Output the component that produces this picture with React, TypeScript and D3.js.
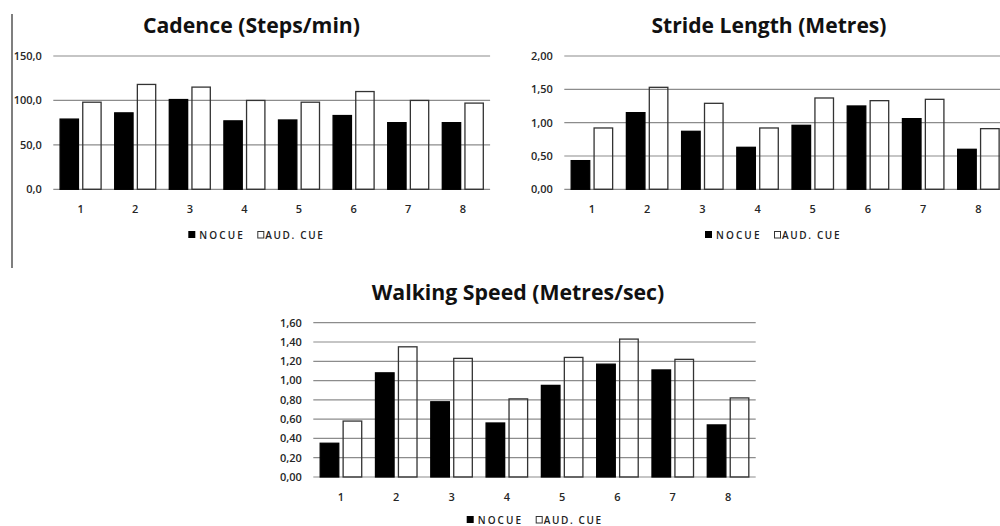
import React from "react";
import * as d3 from "d3";

const categories = ["1", "2", "3", "4", "5", "6", "7", "8"];
const seriesNames = ["NO CUE", "AUD. CUE"];

const cadenceNoCue = [79, 86, 101, 77, 78, 83, 75, 75];
const cadenceAudCue = [98, 118, 115, 100, 98, 110, 100, 97];
const cadenceTicks = [0, 50, 100, 150];

const strideNoCue = [0.43, 1.15, 0.87, 0.63, 0.96, 1.25, 1.06, 0.6];
const strideAudCue = [0.92, 1.53, 1.29, 0.92, 1.37, 1.33, 1.35, 0.91];
const strideTicks = [0, 0.5, 1, 1.5, 2];

const speedNoCue = [0.35, 1.08, 0.78, 0.56, 0.95, 1.17, 1.11, 0.54];
const speedAudCue = [0.58, 1.35, 1.23, 0.81, 1.24, 1.43, 1.22, 0.82];
const speedTicks = [0, 0.2, 0.4, 0.6, 0.8, 1.0, 1.2, 1.4, 1.6];

const locale = d3.formatLocale({
  decimal: ",",
  thousands: ".",
  grouping: [3],
  currency: ["", "€"],
});

const FONT = "'Open Sans', 'DejaVu Sans', sans-serif";

type PanelProps = {
  title: string;
  titleX: number;
  titleY: number;
  titleWidth: number;
  noCue: number[];
  audCue: number[];
  ticks: number[];
  fmt: string;
  x0: number;
  x1: number;
  yZero: number;
  yTop: number;
  legendX: number;
  legendY: number;
};

function Panel(p: PanelProps) {
  const maxTick = p.ticks[p.ticks.length - 1];
  const y = d3.scaleLinear().domain([0, maxTick]).range([p.yZero, p.yTop]);
  const x = d3.scaleBand<string>().domain(categories).range([p.x0, p.x1]).padding(0);
  const inner = d3
    .scaleBand<string>()
    .domain(seriesNames)
    .range([0, x.bandwidth()])
    .paddingInner(0.19)
    .paddingOuter(0.3);
  const format = locale.format(p.fmt);
  const series = [p.noCue, p.audCue];
  return (
    <g>
      <text
        x={p.titleX}
        y={p.titleY}
        textAnchor="middle"
        fontFamily={FONT}
        fontWeight={700}
        fontSize={21}
        fill="#111"
        textLength={p.titleWidth}
        lengthAdjust="spacingAndGlyphs"
      >
        {p.title}
      </text>
      {p.ticks.map((t) => (
        <g key={t}>
          <line x1={p.x0} x2={p.x1} y1={y(t)} y2={y(t)} stroke="#8c8c8c" strokeWidth={1.2} />
          <text
            x={p.x0 - 11.5}
            y={y(t)}
            dy="0.35em"
            textAnchor="end"
            fontFamily={FONT}
            fontSize={11}
            fontWeight={600}
            fill="#262626"
          >
            {format(t)}
          </text>
        </g>
      ))}
      {categories.map((c, i) => (
        <g key={c}>
          {series.map((s, si) => {
            const v = s[i];
            const bx = (x(c) as number) + (inner(seriesNames[si]) as number);
            return (
              <rect
                key={si}
                x={bx}
                y={y(v)}
                width={inner.bandwidth()}
                height={y(0) - y(v)}
                fill={si === 0 ? "#000" : "none"}
                stroke={si === 0 ? "#000" : "#333"}
                strokeWidth={1.3}
              />
            );
          })}
          <text
            x={(x(c) as number) + x.bandwidth() / 2}
            y={p.yZero + 24}
            textAnchor="middle"
            fontFamily={FONT}
            fontSize={11}
            fontWeight={600}
            fill="#262626"
          >
            {c}
          </text>
        </g>
      ))}
      <g transform={`translate(${p.legendX},${p.legendY})`}>
        <rect x={0} y={0} width={7} height={7} fill="#000" />
        <text
          x={11}
          y={8.3}
          fontFamily={FONT}
          fontSize={10}
          fontWeight={600}
          fill="#222"
          textLength={43.5}
          lengthAdjust="spacing"
        >
          NOCUE
        </text>
        <rect x={69.5} y={0.5} width={6} height={6.5} fill="#fff" stroke="#333" strokeWidth={1} />
        <text
          x={77}
          y={8.3}
          fontFamily={FONT}
          fontSize={10}
          fontWeight={600}
          fill="#222"
          textLength={57.5}
          lengthAdjust="spacing"
        >
          AUD. CUE
        </text>
      </g>
    </g>
  );
}

export default function App() {
  return (
    <svg
      width={1000}
      height={526}
      style={{ position: "absolute", left: 0, top: 0, background: "#fff" }}
    >
      <rect x={0} y={0} width={1000} height={526} fill="#fff" />
      <line x1={12} x2={12} y1={14} y2={268} stroke="#555" strokeWidth={1.5} />
      <Panel
        title="Cadence (Steps/min)"
        titleX={251.5}
        titleY={33.3}
        titleWidth={217}
        noCue={cadenceNoCue}
        audCue={cadenceAudCue}
        ticks={cadenceTicks}
        fmt=".1f"
        x0={53.3}
        x1={490.1}
        yZero={189.3}
        yTop={56}
        legendX={188.3}
        legendY={231}
      />
      <Panel
        title="Stride Length (Metres)"
        titleX={769}
        titleY={33.3}
        titleWidth={235}
        noCue={strideNoCue}
        audCue={strideAudCue}
        ticks={strideTicks}
        fmt=".2f"
        x0={564.3}
        x1={1006}
        yZero={189.3}
        yTop={56}
        legendX={705}
        legendY={231}
      />
      <Panel
        title="Walking Speed (Metres/sec)"
        titleX={518}
        titleY={299.5}
        titleWidth={292.6}
        noCue={speedNoCue}
        audCue={speedAudCue}
        ticks={speedTicks}
        fmt=".2f"
        x0={313.3}
        x1={755.7}
        yZero={477}
        yTop={322.7}
        legendX={466.7}
        legendY={516}
      />
    </svg>
  );
}
